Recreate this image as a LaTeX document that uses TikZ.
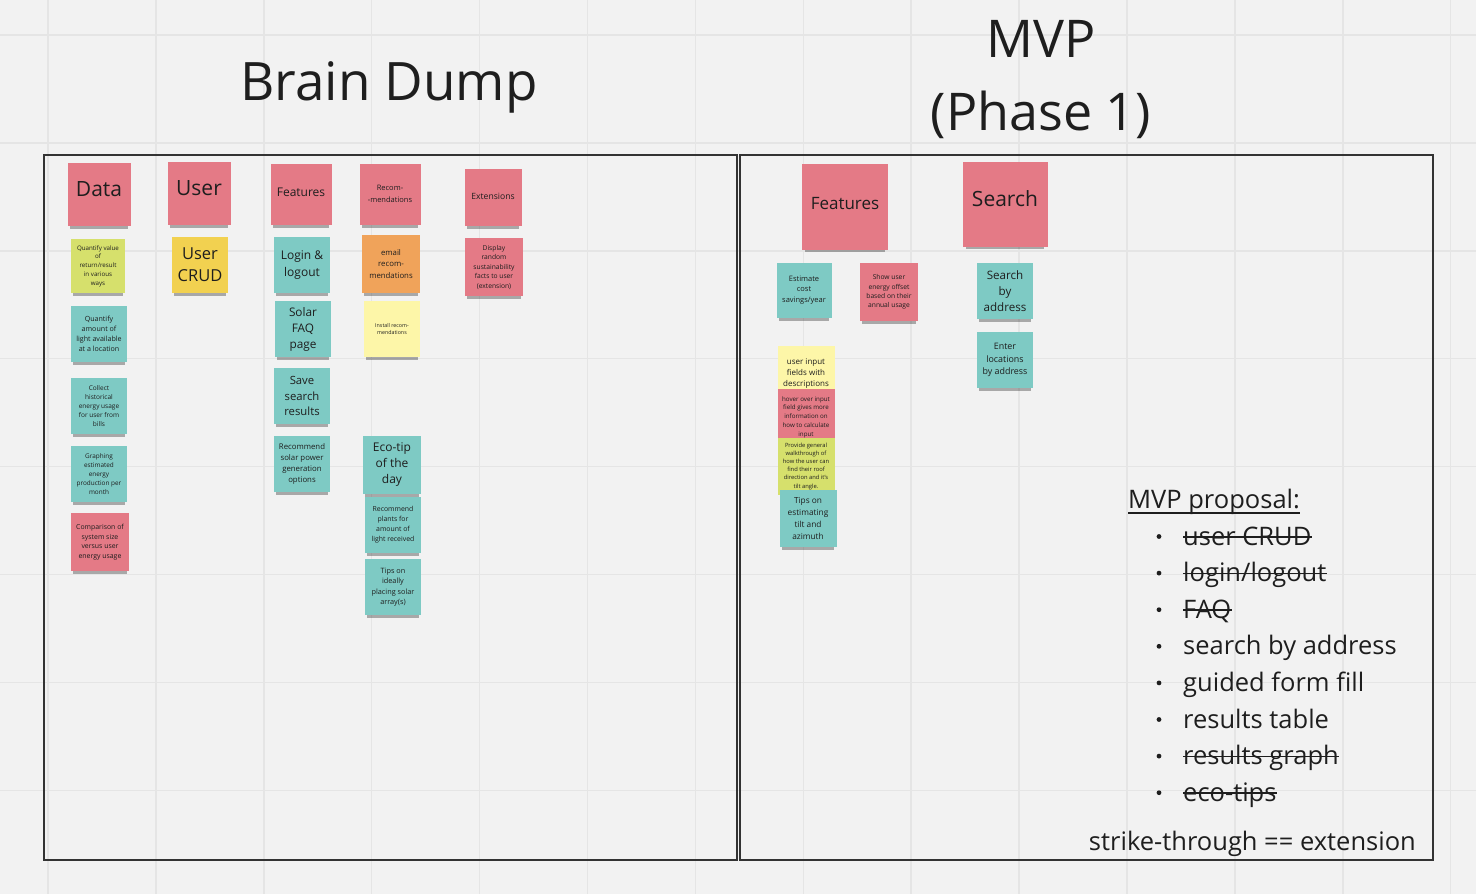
\documentclass[tikz,border=0pt]{standalone}
\usepackage{fontspec}
\setmainfont{Open Sans}
\usepackage{tikz}
\usetikzlibrary{shadows}

\definecolor{board}{HTML}{F2F2F2}
\definecolor{gridc}{HTML}{E5E5E5}
\definecolor{framec}{HTML}{333333}
\definecolor{ink}{HTML}{1E1E1E}
\definecolor{notepink}{HTML}{E47A86}
\definecolor{noteteal}{HTML}{7ECAC4}
\definecolor{notelime}{HTML}{D6E06C}
\definecolor{noteyellow}{HTML}{F2D150}
\definecolor{noteorange}{HTML}{F0A35A}
\definecolor{notecream}{HTML}{FDF6A8}

\tikzset{
  sticky/.style={minimum width=56pt, minimum height=56pt, inner sep=1pt, align=center, text=ink,
    drop shadow={shadow xshift=0pt, shadow yshift=-6pt, shadow scale=0.92, opacity=0.3, fill=black}},
  nf/.style 2 args={font=\fontsize{#1}{#2}\selectfont},
  head/.style={text height=0.75em, text depth=0.2em},
  pink/.style={sticky, fill=notepink},
  teal/.style={sticky, fill=noteteal},
  lime/.style={sticky, fill=notelime},
  yellow/.style={sticky, fill=noteyellow},
  orange/.style={sticky, fill=noteorange},
  cream/.style={sticky, fill=notecream},
  frame/.style={draw=framec, line width=2pt},
  title/.style={text=ink, inner sep=0pt, font=\fontsize{53}{60}\selectfont},
  listtext/.style={text=ink, inner sep=0pt, font=\fontsize{25.5}{30}\selectfont},
  rule/.style={draw=ink, line width=1.7pt},
}

\begin{document}
\begin{tikzpicture}[x=1pt,y=-1pt]
    \fill[board] (0,0) rectangle (1476,894);
    \useasboundingbox (0,0) rectangle (1476,894);
    % grid
    \foreach \i in {0,...,13}
        \draw[gridc, line width=1.5pt] ({48+107.9*\i},0) -- ({48+107.9*\i},894);
    \foreach \j in {0,...,8}
        \draw[gridc, line width=1.5pt] (0,{35+107.9*\j}) -- (1476,{35+107.9*\j});
    \draw[frame] (44,155) rectangle (737,860);
    \draw[frame] (740,155) rectangle (1433,860);

    \node[title, anchor=base] (brain) at (389,100) {Brain Dump};
    \node[title, anchor=base, font=\fontsize{52}{60}\selectfont] (mvp) at (1041,57) {MVP};
    \node[title, anchor=base, font=\fontsize{52}{60}\selectfont] (phase) at (1041,130) {(Phase 1)};

    % brain dump headers
    \node[pink, head, minimum size=63pt, nf={21}{26}] (data) at (99,194) {Data};
    \node[pink, head, minimum size=63pt, nf={21}{26}] (user) at (199,193) {User};
    \node[pink, head, minimum size=61pt, nf={12}{16}] (feat) at (301,194) {Features};
    \node[pink, minimum size=61pt, nf={7.5}{11.5}] (recom) at (390,194) {Recom-\\-mendations};
    \node[pink, head, minimum size=57pt, nf={8.6}{11}] (ext) at (493,197) {Extensions};

    % data column
    \node[lime, minimum size=54pt, nf={6.2}{8.7}] (value) at (98,266) {Quantify value\\of\\return/result\\in various\\ways};
    \node[teal, nf={7.1}{10}] (light) at (99,334) {Quantify\\amount of\\light available\\at a location};
    \node[teal, nf={6.5}{9}] (history) at (99,406) {Collect\\historical\\energy usage\\for user from\\bills};
    \node[teal, nf={6.4}{9}] (graphing) at (99,474) {Graphing\\estimated\\energy\\production per\\month};
    \node[pink, minimum size=58pt, nf={6.9}{9.5}] (compare) at (100,542) {Comparison of\\system size\\versus user\\energy usage};

    % user column
    \node[yellow, nf={16.5}{22}] (crud) at (200,265) {User\\CRUD};

    % features column
    \node[teal, nf={12}{17}] (login) at (302,265) {Login \&\\logout};
    \node[teal, nf={11.8}{16}] (faq) at (303,329) {Solar\\FAQ\\page};
    \node[teal, nf={11.3}{15.5}] (save) at (302,396) {Save\\search\\results};
    \node[teal, nf={7.8}{10.8}] (solar) at (302,464) {Recommend\\solar power\\generation\\options};

    % recommendations column
    \node[orange, minimum size=58pt, nf={7.8}{11.5}] (email) at (391,264) {email\\recom-\\mendations};
    \node[cream, nf={5.3}{7}] (install) at (392,329) {Install recom-\\mendations};
    \node[teal, minimum size=58pt, nf={12}{16}] (ecotip) at (392,465) {Eco-tip\\of the\\day};
    \node[teal, nf={6.9}{10}] (plants) at (393,525) {Recommend\\plants for\\amount of\\light received};
    \node[teal, nf={7.3}{10.5}] (array) at (393,587) {Tips on\\ideally\\placing solar\\array(s)};

    % extensions column
    \node[pink, minimum size=58pt, nf={6.7}{9.5}] (facts) at (494,267) {Display\\random\\sustainability\\facts to user\\(extension)};

    % mvp headers
    \node[pink, head, minimum size=86pt, nf={17}{22}] (mvpfeat) at (845,207) {Features};
    \node[pink, head, minimum size=85pt, nf={21}{26}] (search) at (1005,204) {Search};

    % mvp features
    \node[teal, minimum size=55pt, nf={7.5}{10.5}] (savings) at (804,290) {Estimate\\cost\\savings/year};
    \node[pink, minimum size=58pt, nf={6.7}{9.3}] (offset) at (889,292) {Show user\\energy offset\\based on their\\annual usage};
    \node[cream, minimum size=57pt, nf={8}{11}] (fields) at (806,374) {user input\\fields with\\descriptions};
    \node[pink, minimum size=57pt, nf={6.2}{8.7}] (hover) at (806,417) {hover over input\\field gives more\\information on\\how to calculate\\input};
    \node[lime, minimum size=57pt, nf={5.8}{8.2}] (walk) at (806,466) {Provide general\\walkthrough of\\how the user can\\find their roof\\direction and it's\\tilt angle.};
    \node[teal, minimum size=57pt, nf={8.3}{12}] (tilt) at (808,518) {Tips on\\estimating\\tilt and\\azimuth};

    % mvp search
    \node[teal, nf={11.6}{16}] (address) at (1005,291) {Search\\by\\address};
    \node[teal, nf={8.9}{12.5}] (locations) at (1005,360) {Enter\\locations\\by address};

    % proposal list
    \node[listtext, anchor=base west] (proposal) at (1128,508) {MVP proposal:};
    \draw[rule] ([yshift=-5pt]proposal.base west) -- ([yshift=-5pt]proposal.base east);
    \foreach \txt/\strk [count=\i from 0] in {user CRUD/1, {login/logout}/1, FAQ/1,
            search by address/0, guided form fill/0, results table/0, results graph/1, eco-tips/1}
    {
        \fill[ink] (1159,{545+36.6*\i-8.5}) circle (2.4pt);
        \node[listtext, anchor=base west] (item\i) at (1183,{545+36.6*\i}) {\txt};
        \ifnum\strk=1
            \draw[rule] ([yshift=8pt]item\i.base west) -- ([yshift=8pt]item\i.base east);
        \fi
    }
    \node[listtext, anchor=base east] (legend) at (1416,850) {strike-through == extension};
\end{tikzpicture}
\end{document}
